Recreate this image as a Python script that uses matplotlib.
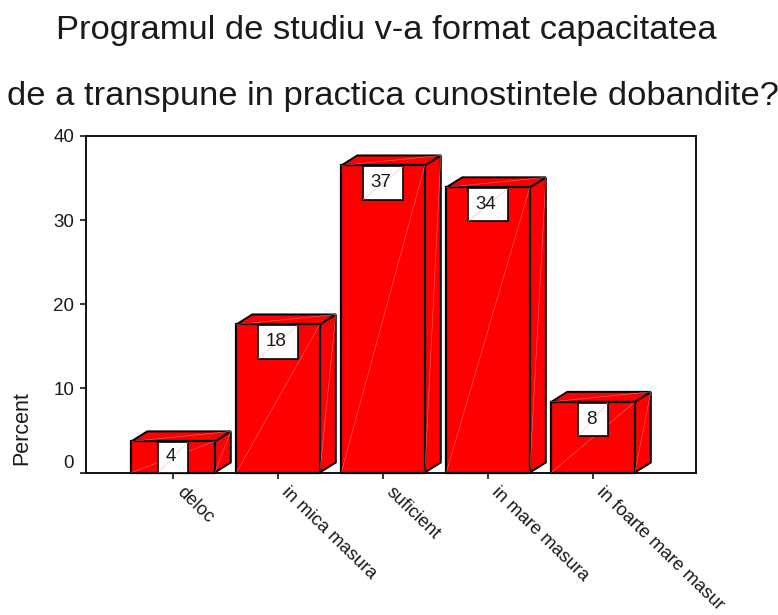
import matplotlib
matplotlib.use('Agg')
import matplotlib.pyplot as plt
from matplotlib.patches import Polygon, Rectangle
from matplotlib.transforms import ScaledTranslation

plt.rcParams['font.family'] = ['Liberation Sans', 'DejaVu Sans']

title_lines = ['Programul de studiu v-a format capacitatea',
               'de a transpune in practica cunostintele dobandite?']
categories = ['deloc', 'in mica masura', 'suficient', 'in mare masura', 'in foarte mare masur']
percent = [3.7, 17.6, 36.5, 33.9, 8.4]
bar_labels = ['4', '18', '37', '34', '8']
y_ticks = [0, 10, 20, 30, 40]

W, H = 778, 615
fig = plt.figure(figsize=(W / 100, H / 100), dpi=100)

# axes box in pixels: left 86, right 696, top 136, bottom 472.5
ax = fig.add_axes([86 / W, 1 - 472.5 / H, 610 / W, 336.5 / H])
ax.set_xlim(-0.829, 4.98)
ax.set_ylim(0, 40)

# 3d look of the bars
width = 0.795
dx = 16 / 105
dy = 10 / 8.41
red = '#ff0000'
pale = '#ff8a8a'

for i, v in enumerate(percent):
    x0 = i - width / 2
    x1 = i + width / 2
    # clip_on off so the depth faces sit over the axis like the original
    ax.add_patch(Polygon([(x1, 0), (x1 + dx, dy), (x1 + dx, v + dy), (x1, v)], fc=red, ec='black', lw=1.4, zorder=3, clip_on=False))
    ax.add_patch(Polygon([(x0, v), (x0 + dx, v + dy), (x1 + dx, v + dy), (x1, v)], fc=red, ec='black', lw=1.4, zorder=3, clip_on=False))
    ax.add_patch(Rectangle((x0, 0), width, v, fc=red, ec='black', lw=1.6, zorder=4, clip_on=False))
    # faint diagonal seams
    ax.plot([x0, x1], [0, v], color=pale, lw=0.4, alpha=0.8, zorder=5)
    ax.plot([x1, x1 + dx], [0, v + dy], color=pale, lw=0.4, alpha=0.8, zorder=5)
    ax.plot([x0, x1 + dx], [v, v + dy], color=pale, lw=0.4, alpha=0.8, zorder=5)

    # label box hanging from the top of the bar
    bw = 0.38 if len(bar_labels[i]) > 1 else 0.28
    bh = min(4.05, v)
    ax.add_patch(Rectangle((i - bw / 2, v - bh), bw, bh - 0.12, fc='white', ec='black', lw=1.2, zorder=6))
    ax.plot([i - bw / 2, i + bw / 2], [v - bh, v - 0.12], color='#ffb0b0', lw=0.4, zorder=6.5)
    ax.text(i - 0.02, v - min(2.05, v / 2), bar_labels[i], ha='center', va='center', fontsize=13.5, color='#1a1a1a', zorder=7)

for s in ax.spines.values():
    s.set_linewidth(1.4)
    s.set_color('#111111')

ax.set_yticks(y_ticks)
ax.set_yticklabels([str(t) for t in y_ticks], fontsize=13.5, color='#1a1a1a')
ax.tick_params(axis='y', length=4.5, width=1.1, pad=4)
ax.get_yticklabels()[0].set_verticalalignment('bottom')

ax.set_xticks(range(len(categories)))
ax.set_xticklabels(categories, rotation=-44, rotation_mode='anchor', ha='left', va='center', fontsize=13.2, color='#1a1a1a')
ax.tick_params(axis='x', length=4.5, width=1.1, pad=8)
shift = ScaledTranslation(6 / 100, 0, fig.dpi_scale_trans)
for lab in ax.get_xticklabels():
    lab.set_transform(lab.get_transform() + shift)

fig.text(22 / W, 1 - 428 / H, 'Percent', rotation=90, ha='center', va='center', fontsize=15.5, color='#1a1a1a')
fig.text(386 / W, 1 - 31 / H, title_lines[0], ha='center', va='center', fontsize=24.8, color='#1a1a1a')
fig.text(393 / W, 1 - 96 / H, title_lines[1], ha='center', va='center', fontsize=24.8, color='#1a1a1a')

fig.savefig('out.png', dpi=100)
